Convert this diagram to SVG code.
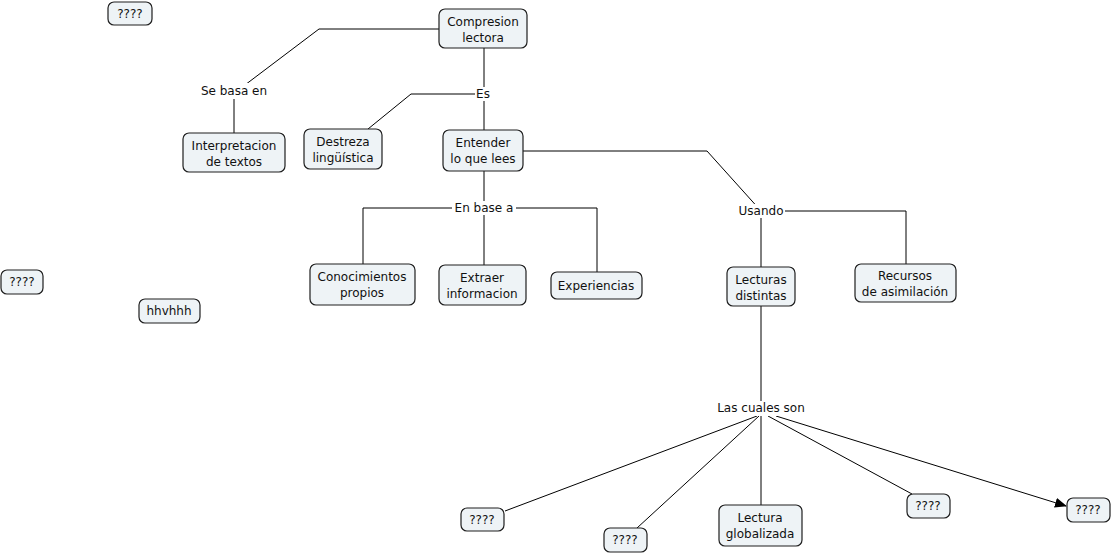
<svg xmlns="http://www.w3.org/2000/svg" width="1111" height="556" viewBox="0 0 1111 556">
<style>
.n rect{fill:#eef3f6;stroke:#1e1e1e;stroke-width:1.2}
text{font-family:"DejaVu Sans",Verdana,sans-serif;font-size:12px;fill:#111;text-anchor:middle}
.c path{fill:none;stroke:#000;stroke-width:1}
.lb{fill:#fff}
</style>
<defs>
<marker id="ar" markerWidth="12" markerHeight="10" refX="11" refY="5" orient="auto" markerUnits="userSpaceOnUse">
<path d="M0,0 L12,5 L0,10 z" fill="#000"/>
</marker>
</defs>
<rect width="1111" height="556" fill="#fff"/>
<g class="c" id="connectors">
<path d="M439,29 H319 L237,91"/>
<path d="M234,91 V133"/>
<path d="M484,48 V130"/>
<path d="M484,94 H411 L368,129"/>
<path d="M523,151 H707 L761,211"/>
<path d="M761,211 H906 V264"/>
<path d="M761,211 V267"/>
<path d="M484,171 V265"/>
<path d="M484,208 H363 V264"/>
<path d="M484,208 H597 V272"/>
<path d="M761,306 V505"/>
<path d="M757,416 L505,511"/>
<path d="M759,416 L637,528"/>
<path d="M768,416 L912,494"/>
<path d="M776,416 L1066,506" marker-end="url(#ar)"/>
</g>
<g id="labels">
<rect class="lb" x="199" y="83" width="70" height="16"/>
<text x="234" y="95">Se basa en</text>
<rect class="lb" x="475" y="87" width="17" height="14"/>
<text x="483" y="98">Es</text>
<rect class="lb" x="452" y="201" width="64" height="14"/>
<text x="484" y="212">En base a</text>
<rect class="lb" x="737" y="204" width="48" height="14"/>
<text x="761" y="215">Usando</text>
<rect class="lb" x="716" y="401" width="90" height="15"/>
<text x="761" y="412">Las cuales son</text>
</g>
<g class="n" id="n-q1"><rect x="108" y="2" width="44" height="23" rx="6"/><text x="130" y="18">????</text></g>
<g class="n" id="n-compresion"><rect x="439" y="9" width="88" height="39" rx="6"/><text x="483" y="26">Compresion</text><text x="483" y="42">lectora</text></g>
<g class="n" id="n-interpretacion"><rect x="183" y="133" width="102" height="39" rx="6"/><text x="234" y="150">Interpretacion</text><text x="234" y="166">de textos</text></g>
<g class="n" id="n-destreza"><rect x="304" y="129" width="78" height="40" rx="6"/><text x="343" y="146">Destreza</text><text x="343" y="162">lingüística</text></g>
<g class="n" id="n-entender"><rect x="443" y="130" width="80" height="41" rx="6"/><text x="483" y="147">Entender</text><text x="483" y="163">lo que lees</text></g>
<g class="n" id="n-conocimientos"><rect x="310" y="264" width="105" height="41" rx="6"/><text x="362" y="281">Conocimientos</text><text x="362" y="297">propios</text></g>
<g class="n" id="n-extraer"><rect x="439" y="265" width="87" height="40" rx="6"/><text x="482" y="282">Extraer</text><text x="482" y="298">informacion</text></g>
<g class="n" id="n-experiencias"><rect x="551" y="272" width="91" height="27" rx="6"/><text x="596" y="290">Experiencias</text></g>
<g class="n" id="n-lecturas"><rect x="727" y="267" width="68" height="39" rx="6"/><text x="761" y="284">Lecturas</text><text x="761" y="300">distintas</text></g>
<g class="n" id="n-recursos"><rect x="855" y="264" width="101" height="38" rx="6"/><text x="905" y="280">Recursos</text><text x="905" y="296">de asimilación</text></g>
<g class="n" id="n-q2"><rect x="1" y="270" width="42" height="24" rx="6"/><text x="22" y="286">????</text></g>
<g class="n" id="n-hhvhhh"><rect x="139" y="299" width="61" height="24" rx="6"/><text x="169" y="315">hhvhhh</text></g>
<g class="n" id="n-q3"><rect x="461" y="508" width="43" height="23" rx="6"/><text x="482" y="524">????</text></g>
<g class="n" id="n-q4"><rect x="604" y="528" width="43" height="24" rx="6"/><text x="625" y="544">????</text></g>
<g class="n" id="n-globalizada"><rect x="719" y="505" width="83" height="41" rx="6"/><text x="760" y="522">Lectura</text><text x="760" y="538">globalizada</text></g>
<g class="n" id="n-q5"><rect x="907" y="494" width="43" height="24" rx="6"/><text x="928" y="510">????</text></g>
<g class="n" id="n-q6"><rect x="1067" y="498" width="43" height="24" rx="6"/><text x="1088" y="514">????</text></g>
</svg>
